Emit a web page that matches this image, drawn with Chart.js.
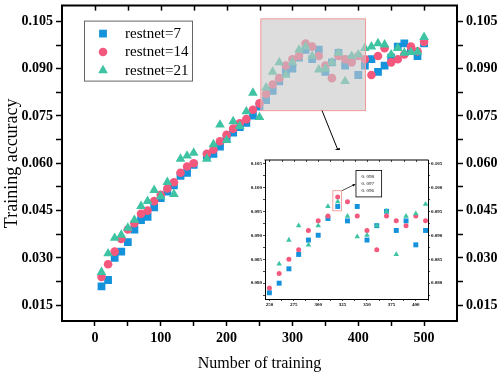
<!DOCTYPE html>
<html>
<head>
<meta charset="utf-8">
<script src="https://cdn.jsdelivr.net/npm/chart.js@4.4.1/dist/chart.umd.min.js"></script>
<style>
  html, body { margin:0; padding:0; background:#ffffff; overflow:hidden; }
  #wrap { position:relative; width:498px; height:374px; background:#fff; }
  #main { position:absolute; left:0; top:0; }
  #inset { position:absolute; left:236px; top:150px; }
</style>
</head>
<body>
<div id="wrap">
  <canvas id="main" width="498" height="374"></canvas>
  <canvas id="inset" width="216" height="165"></canvas>
</div>
<script>
// ---------------- data ----------------
const TRAINING = [10,20,30,40,50,60,70,80,90,100,110,120,130,140,150,170,180,190,200,210,220,230,240,250,260,270,280,290,300,310,320,330,340,350,360,370,380,390,400,410,420,430,440,450,460,470,480,490,500];
const ACC_RESTNET7 = [0.021,0.023,0.030,0.032,0.035,0.039,0.042,0.043,0.046,0.049,
  0.051,0.053,0.056,0.057,0.0595,
  0.0624,0.063,0.0653,0.068,0.0697,0.0715,0.0728,0.0751,0.078,
  0.080,0.083,0.086,0.089,0.090,0.0935,0.096,0.093,0.096,0.089,
  0.092,0.095,0.091,0.093,0.088,0.091,0.093,0.089,0.091,0.0935,
  0.097,0.098,0.096,0.094,0.098];
const ACC_RESTNET14 = [0.024,0.028,0.032,0.036,0.039,0.041,0.044,0.045,0.048,0.050,
  0.052,0.054,0.057,0.059,0.060,
  0.063,0.0643,0.067,0.069,0.071,0.0727,0.074,0.077,0.079,
  0.082,0.085,0.087,0.091,0.093,0.094,0.098,0.097,0.094,0.091,
  0.087,0.094,0.093,0.092,0.094,0.093,0.088,0.094,0.0965,0.092,
  0.093,0.0945,0.097,0.0955,0.0985];
const ACC_RESTNET21 = [0.0255,0.0314,0.0363,0.0373,0.0395,0.042,0.0464,0.048,0.0515,0.0495,
  0.054,0.0502,0.0614,0.0624,0.0633,
  0.0614,0.066,0.0722,0.0673,0.0733,0.0718,0.0764,0.0823,0.0746,
  0.084,0.089,0.092,0.088,0.092,0.096,0.097,0.094,0.0897,0.090,
  0.092,0.095,0.086,0.094,0.0945,0.0965,0.097,0.098,0.0976,0.0945,
  0.0965,0.095,0.0952,0.0953,0.100];
const SERIES_NAMES = ['restnet=7','restnet=14','restnet=21'];

const X_TICKS = [0,50,100,150,200,250,300,350,400,450,500];
const X_LABELS = [0,100,200,300,400,500];
const Y_TICKS = [0.015,0.0225,0.03,0.0375,0.045,0.0525,0.06,0.0675,0.075,0.0825,0.09,0.0975,0.105];
const Y_LABELS = [0.015,0.03,0.045,0.06,0.075,0.09,0.105];

const INSET_X_TICKS = [250,262.5,275,287.5,300,312.5,325,337.5,350,362.5,375,387.5,400,412.5];
const INSET_X_LABELS = [250,275,300,325,350,375,400];
const INSET_Y_TICKS = [0.0775,0.08,0.0825,0.085,0.0875,0.09,0.0925,0.095,0.0975,0.1,0.1025,0.105];
const INSET_Y_LABELS = [0.08,0.085,0.09,0.095,0.1,0.105];
const CALLOUT_TEXT = ['0. 098','0. 097','0. 096'];

// ---------------- axis ranges & annotations (data units) ----------------
const X_RANGE = [-50, 550];
const Y_RANGE = [0.01, 0.11];
const INSET_X_RANGE = [245.5, 412.5];
const INSET_Y_RANGE = [0.0767, 0.1057];
const ZOOM_BOX = {x:[252, 411], y:[0.0767, 0.1058]};
const ZOOM_ARROW = {x1:345, y1:0.0767, x2:372, y2:0.0627};
const CALLOUT_RECT = {x:[315, 324], y:[0.0951, 0.0993]};
const CALLOUT_BOX = {x:[338.7, 365], y:[0.098, 0.1035]};
const CALLOUT_ARROW = {x1:324.3, y1:0.0993, x2:338.5, y2:0.1007};
const CALLOUT_TEXT_POS = {x:344.4, y:[0.1022, 0.1007, 0.0992]};

// ---------------- styles ----------------
const BLUE = '#1592dc', PINK = '#f5587d', GREEN = '#3ec3a3';
const COLORS = [BLUE, PINK, GREEN];
const STYLES = ['rect','circle','triangle'];
const SERIF = '"Liberation Serif", "Times New Roman", serif';

function pairs(ys, filt) {
  const out = [];
  TRAINING.forEach((x, i) => {
    const p = {x: x, y: ys[i]};
    if (!filt || filt(p)) out.push(p);
  });
  return out;
}
const near = (arr, v) => arr.some(a => Math.abs(a - v) < 1e-9);

function drawMarker(ctx, style, x, y, r) {
  ctx.beginPath();
  if (style === 'rect') {
    const s = Math.SQRT1_2 * r;
    ctx.rect(x - s, y - s, 2 * s, 2 * s);
  } else if (style === 'circle') {
    ctx.arc(x, y, r, 0, Math.PI * 2);
  } else {
    let a = 0;
    ctx.moveTo(x + Math.sin(a) * r, y - Math.cos(a) * r);
    a += 2 * Math.PI / 3;
    ctx.lineTo(x + Math.sin(a) * r, y - Math.cos(a) * r);
    a += 2 * Math.PI / 3;
    ctx.lineTo(x + Math.sin(a) * r, y - Math.cos(a) * r);
    ctx.closePath();
  }
  ctx.fill();
}
function drawArrow(ctx, x1, y1, x2, y2, head, lw) {
  const ang = Math.atan2(y2 - y1, x2 - x1);
  ctx.lineWidth = lw;
  ctx.beginPath();
  ctx.moveTo(x1, y1);
  ctx.lineTo(x2 - Math.cos(ang) * head * 0.7, y2 - Math.sin(ang) * head * 0.7);
  ctx.stroke();
  ctx.beginPath();
  ctx.moveTo(x2, y2);
  ctx.lineTo(x2 - head * Math.cos(ang - 0.38), y2 - head * Math.sin(ang - 0.38));
  ctx.lineTo(x2 - head * Math.cos(ang + 0.38), y2 - head * Math.sin(ang + 0.38));
  ctx.closePath();
  ctx.fill();
}

// frame: top border + inward top ticks
const framePlugin = {
  id: 'frame',
  afterDraw(chart, args, o) {
    const {ctx, chartArea: a, scales} = chart;
    ctx.save();
    ctx.strokeStyle = '#000';
    ctx.lineWidth = o.width;
    ctx.beginPath();
    ctx.moveTo(a.left - o.width / 2, a.top);
    ctx.lineTo(a.right + o.width / 2, a.top);
    ctx.stroke();
    ctx.lineWidth = o.tickWidth;
    o.ticks.forEach(v => {
      const px = Math.round(scales.x.getPixelForValue(v)) + 0.5;
      ctx.beginPath();
      ctx.moveTo(px, a.top);
      ctx.lineTo(px, a.top + o.tickLength);
      ctx.stroke();
    });
    ctx.restore();
  }
};

// main overlays: zoom box, arrow, legend
const mainOverlay = {
  id: 'mainOverlay',
  afterDatasetsDraw(chart) {
    const {ctx, scales: {x, y}} = chart;
    ctx.save();
    const bx1 = x.getPixelForValue(ZOOM_BOX.x[0]), bx2 = x.getPixelForValue(ZOOM_BOX.x[1]);
    const by1 = y.getPixelForValue(ZOOM_BOX.y[1]), by2 = y.getPixelForValue(ZOOM_BOX.y[0]);
    ctx.fillStyle = 'rgba(200,200,200,0.62)';
    ctx.fillRect(bx1, by1, bx2 - bx1, by2 - by1);
    ctx.strokeStyle = '#f29a9a';
    ctx.lineWidth = 1;
    ctx.strokeRect(bx1, by1, bx2 - bx1, by2 - by1);
    ctx.strokeStyle = '#000';
    ctx.fillStyle = '#000';
    drawArrow(ctx, x.getPixelForValue(ZOOM_ARROW.x1), y.getPixelForValue(ZOOM_ARROW.y1),
      x.getPixelForValue(ZOOM_ARROW.x2), y.getPixelForValue(ZOOM_ARROW.y2), 7, 1);
    ctx.restore();
  },
  afterDraw(chart) {
    const {ctx, chartArea: a} = chart;
    ctx.save();
    const lx = a.left + 22, ly = a.top + 15, lw = 108, lh = 60;
    ctx.fillStyle = '#fff';
    ctx.fillRect(lx, ly, lw, lh);
    ctx.strokeStyle = '#666';
    ctx.lineWidth = 1;
    ctx.strokeRect(lx + 0.5, ly + 0.5, lw, lh);
    chart.data.datasets.forEach((ds, i) => {
      const cy = ly + 13 + i * 18.4;
      ctx.fillStyle = ds.backgroundColor;
      drawMarker(ctx, ds.pointStyle, lx + 19, cy, ds.pointRadius);
      ctx.fillStyle = '#000';
      ctx.font = '15px ' + SERIF;
      ctx.textBaseline = 'middle';
      ctx.textAlign = 'left';
      ctx.fillText(ds.label, lx + 41, cy + 0.5);
    });
    ctx.restore();
  }
};

// inset callout
const insetOverlay = {
  id: 'insetOverlay',
  beforeDraw(chart) {
    const {ctx} = chart;
    ctx.save();
    ctx.fillStyle = '#fff';
    ctx.fillRect(0, 0, chart.width, chart.height);
    ctx.restore();
  },
  afterDraw(chart) {
    const {ctx, scales: {x, y}} = chart;
    ctx.save();
    const rx1 = x.getPixelForValue(CALLOUT_RECT.x[0]), rx2 = x.getPixelForValue(CALLOUT_RECT.x[1]);
    const ry1 = y.getPixelForValue(CALLOUT_RECT.y[1]), ry2 = y.getPixelForValue(CALLOUT_RECT.y[0]);
    ctx.strokeStyle = '#f28a8a';
    ctx.lineWidth = 0.8;
    ctx.strokeRect(rx1, ry1, rx2 - rx1, ry2 - ry1);
    const bx1 = x.getPixelForValue(CALLOUT_BOX.x[0]), bx2 = x.getPixelForValue(CALLOUT_BOX.x[1]);
    const by1 = y.getPixelForValue(CALLOUT_BOX.y[1]), by2 = y.getPixelForValue(CALLOUT_BOX.y[0]);
    ctx.fillStyle = '#fff';
    ctx.fillRect(bx1, by1, bx2 - bx1, by2 - by1);
    ctx.strokeStyle = '#000';
    ctx.lineWidth = 0.8;
    ctx.strokeRect(bx1, by1, bx2 - bx1, by2 - by1);
    ctx.fillStyle = '#000';
    drawArrow(ctx, x.getPixelForValue(CALLOUT_ARROW.x1), y.getPixelForValue(CALLOUT_ARROW.y1),
      x.getPixelForValue(CALLOUT_ARROW.x2), y.getPixelForValue(CALLOUT_ARROW.y2), 3.5, 0.7);
    ctx.font = '5px ' + SERIF;
    ctx.textBaseline = 'middle';
    ctx.textAlign = 'left';
    CALLOUT_TEXT.forEach((t, i) => {
      ctx.fillText(t, x.getPixelForValue(CALLOUT_TEXT_POS.x), y.getPixelForValue(CALLOUT_TEXT_POS.y[i]));
    });
    ctx.restore();
  }
};

function yAxis(pos, cfg) {
  return {
    type: 'linear', position: pos, display: true,
    min: cfg.range[0], max: cfg.range[1],
    afterBuildTicks: s => { s.ticks = cfg.ticks.map(v => ({value: v})); },
    afterFit: s => { s.width = pos === 'left' ? cfg.wl : cfg.wr; s.paddingTop = 0; s.paddingBottom = 0; },
    grid: {drawOnChartArea: false, drawTicks: true, tickLength: cfg.tickLen, tickWidth: cfg.tickW, tickColor: '#000'},
    border: {display: true, width: cfg.border, color: '#000'},
    ticks: {autoSkip: false, padding: cfg.pad, color: '#000',
      font: {family: SERIF, size: cfg.font, weight: 'bold'},
      callback: v => near(cfg.labels, v) ? v.toFixed(3) : ''},
    title: (pos === 'left' && cfg.title) ? {display: true, text: cfg.title, color: '#000',
      font: {family: SERIF, size: 18}, padding: {top: 1, bottom: 0}} : {display: false}
  };
}
function xAxis(cfg) {
  return {
    type: 'linear', position: 'bottom',
    min: cfg.range[0], max: cfg.range[1],
    afterBuildTicks: s => { s.ticks = cfg.ticks.map(v => ({value: v})); },
    afterFit: s => { s.height = cfg.h; s.paddingLeft = 0; s.paddingRight = 0; },
    grid: {drawOnChartArea: false, drawTicks: true, tickLength: cfg.tickLen, tickWidth: cfg.tickW, tickColor: '#000'},
    border: {display: true, width: cfg.border, color: '#000'},
    ticks: {autoSkip: false, maxRotation: 0, minRotation: 0, padding: cfg.pad, color: '#000',
      font: {family: SERIF, size: cfg.font, weight: 'bold'},
      callback: v => near(cfg.labels, v) ? String(v) : ''},
    title: cfg.title ? {display: true, text: cfg.title, color: '#000',
      font: {family: SERIF, size: 16}, padding: {top: 0, bottom: 1}} : {display: false}
  };
}

const RADII = [5.5, 4.3, 5.6];
const INSET_RADII = [3.5, 2.5, 3.2];

function datasets(radii, filt) {
  return [ACC_RESTNET7, ACC_RESTNET14, ACC_RESTNET21].map((ys, i) => ({
    label: SERIES_NAMES[i],
    data: pairs(ys, filt),
    pointStyle: STYLES[i],
    pointRadius: radii[i],
    backgroundColor: COLORS[i],
    borderColor: COLORS[i],
    pointBorderWidth: 0,
    showLine: false,
    order: 3 - i
  }));
}

const mainCfg = {
  range: Y_RANGE, ticks: Y_TICKS, labels: Y_LABELS, wl: 62, wr: 41,
  tickLen: 6, tickW: 1.5, border: 2, pad: 3, font: 14, title: 'Training accuracy'
};
new Chart(document.getElementById('main'), {
  type: 'scatter',
  data: {datasets: datasets(RADII)},
  options: {
    responsive: false, animation: false, devicePixelRatio: 1, events: [],
    layout: {padding: {top: 2, left: 0, right: 0, bottom: 0}},
    scales: {
      x: xAxis({range: X_RANGE, ticks: X_TICKS, labels: X_LABELS, h: 53, tickLen: 5, tickW: 1.5,
        border: 2, pad: 4, font: 14, title: 'Number of training'}),
      y: yAxis('left', mainCfg),
      y2: yAxis('right', mainCfg)
    },
    plugins: {
      legend: {display: false}, tooltip: {enabled: false},
      frame: {width: 2, tickWidth: 1.5, tickLength: 5, ticks: X_TICKS}
    }
  },
  plugins: [framePlugin, mainOverlay]
});

const insetCfg = {
  range: INSET_Y_RANGE, ticks: INSET_Y_TICKS, labels: INSET_Y_LABELS, wl: 29, wr: 24,
  tickLen: 2, tickW: 0.7, border: 1, pad: 1, font: 5, title: null
};
const inRange = p => p.x >= INSET_X_RANGE[0] && p.x <= INSET_X_RANGE[1] && p.y >= INSET_Y_RANGE[0] && p.y <= INSET_Y_RANGE[1];
new Chart(document.getElementById('inset'), {
  type: 'scatter',
  data: {datasets: datasets(INSET_RADII, inRange)},
  options: {
    responsive: false, animation: false, devicePixelRatio: 1, events: [],
    layout: {padding: {top: 10, left: 0, right: 0, bottom: 0}},
    scales: {
      x: xAxis({range: INSET_X_RANGE, ticks: INSET_X_TICKS, labels: INSET_X_LABELS, h: 16, tickLen: 2, tickW: 0.7,
        border: 1, pad: 1, font: 5, title: null}),
      y: yAxis('left', insetCfg),
      y2: yAxis('right', insetCfg)
    },
    plugins: {
      legend: {display: false}, tooltip: {enabled: false},
      frame: {width: 1, tickWidth: 0.7, tickLength: 2, ticks: INSET_X_TICKS}
    }
  },
  plugins: [framePlugin, insetOverlay]
});
</script>
</body>
</html>
